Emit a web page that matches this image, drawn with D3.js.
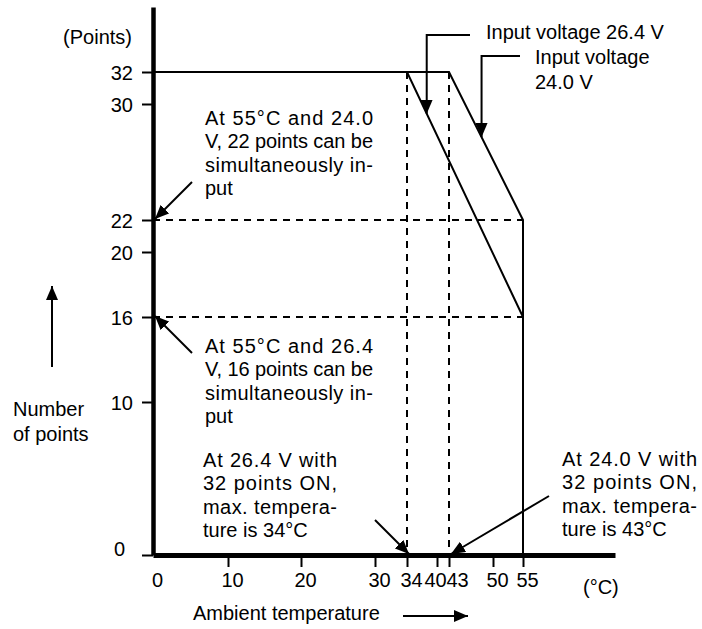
<!DOCTYPE html>
<html>
<meta charset="utf-8">
<script src="https://cdn.jsdelivr.net/npm/d3@7"></script>
<style>
body { margin: 0; background: #fff; }
text { font-family: "Liberation Sans", Arial, sans-serif; font-size: 20px; fill: #000; }
</style>
<body>
<script>

// tick values (the original drawing is not to scale, so scales are piecewise)
var xTicks = [0, 10, 20, 30, 34, 40, 43, 50, 55];
var yTicks = [0, 10, 16, 20, 22, 30, 32];

// derating curves: [ambient temperature, number of points]
var line264 = [[0, 32], [34, 32], [55, 16]];
var line240 = [[0, 32], [43, 32], [55, 22], [55, 0]];

// dashed guide lines
var guideTemps = [34, 43];
var guidePoints = [22, 16];

var notes = [
  {x: 205, y: 125, w: 168, lines: ["At 55°C and 24.0", "V, 22 points can be", "simultaneously in-", "put"]},
  {x: 205, y: 353, w: 168, lines: ["At 55°C and 26.4", "V, 16 points can be", "simultaneously in-", "put"]},
  {x: 203, y: 467, w: 134, lines: ["At 26.4 V with", "32 points ON,", "max. tempera-", "ture is 34°C"]},
  {x: 562, y: 466, w: 135, lines: ["At 24.0 V with", "32 points ON,", "max. tempera-", "ture is 43°C"]}
];

var width = 702, height = 629;

var svg = d3.select("body").append("svg")
  .attr("width", width)
  .attr("height", height);

var x = d3.scaleLinear()
  .domain([0, 10, 20, 30, 34, 40, 43, 50, 55, 68])
  .range([153, 228, 301, 375, 407, 437, 449, 493, 523, 615]);
var y = d3.scaleLinear()
  .domain([0, 10, 16, 20, 22, 30, 32, 36])
  .range([555, 402, 317, 252, 220, 104, 72, 7]);

// arrow head
svg.append("defs").append("marker")
  .attr("id", "head")
  .attr("viewBox", "0 0 14 12")
  .attr("refX", 14).attr("refY", 6)
  .attr("markerWidth", 14).attr("markerHeight", 12)
  .attr("markerUnits", "userSpaceOnUse")
  .attr("orient", "auto")
  .append("path").attr("d", "M0,0 L14,6 L0,12 Z").attr("fill", "#000");

// dashed guides
svg.selectAll(".vguide").data(guideTemps).enter().append("line")
  .attr("x1", d => x(d)).attr("x2", d => x(d))
  .attr("y1", y(32)).attr("y2", y(0))
  .attr("stroke", "#000").attr("stroke-width", 2).attr("stroke-dasharray", "7,6");
svg.selectAll(".hguide").data(guidePoints).enter().append("line")
  .attr("x1", x(0)).attr("x2", x(55))
  .attr("y1", d => y(d)).attr("y2", d => y(d))
  .attr("stroke", "#000").attr("stroke-width", 2).attr("stroke-dasharray", "7,6");

// curves
var line = d3.line().x(d => x(d[0])).y(d => y(d[1]));
[line264, line240].forEach(function(c) {
  svg.append("path").attr("d", line(c))
    .attr("fill", "none").attr("stroke", "#000").attr("stroke-width", 2);
});

// axes
var xAx = svg.append("g")
  .attr("transform", `translate(0,${y(0)})`)
  .call(d3.axisBottom(x).tickValues(xTicks).tickSize(12).tickSizeOuter(0));
xAx.select(".domain").attr("stroke-width", 5);
xAx.selectAll(".tick line").attr("stroke-width", 2).filter(d => d == 0).remove();
// labels sit a little right of their ticks; 40 and 43 are squeezed apart
xAx.selectAll(".tick text").attr("y", 32).attr("dy", 0)
  .attr("dx", d => d == 40 ? -2 : d == 43 ? 8 : 4)
  .style("font-size", "20px");

var yAx = svg.append("g")
  .attr("transform", `translate(${x(0)},0)`)
  .call(d3.axisLeft(y).tickValues(yTicks).tickSize(11).tickPadding(9).tickSizeOuter(0));
yAx.select(".domain").attr("stroke-width", 4.5);
yAx.selectAll(".tick line").attr("stroke-width", 2);
yAx.selectAll(".tick text").attr("dy", "0.35em").style("font-size", "20px");
yAx.selectAll(".tick").filter(d => d == 0).select("text").attr("dy", "0").attr("dx", -8);
svg.selectAll(".domain, .tick line").attr("stroke", "#000");

// horizontal part of curves over the axis
svg.append("line")
  .attr("x1", x(0)).attr("x2", x(43)).attr("y1", y(32)).attr("y2", y(32))
  .attr("stroke", "#000").attr("stroke-width", 2);

// axis labels
svg.append("text").attr("x", 132).attr("y", 44).attr("text-anchor", "end").text("(Points)");
svg.append("text").attr("x", 13).attr("y", 416).text("Number");
svg.append("text").attr("x", 13).attr("y", 441).text("of points");
svg.append("line").attr("x1", 52).attr("x2", 52).attr("y1", 367).attr("y2", 286)
  .attr("stroke", "#000").attr("stroke-width", 2).attr("marker-end", "url(#head)");
svg.append("text").attr("x", 193).attr("y", 620).text("Ambient temperature");
svg.append("line").attr("x1", 403).attr("x2", 468).attr("y1", 616).attr("y2", 616)
  .attr("stroke", "#000").attr("stroke-width", 2).attr("marker-end", "url(#head)");
svg.append("text").attr("x", 583).attr("y", 594).text("(°C)");

// note blocks, justified like the source
notes.forEach(function(n) {
  n.lines.forEach(function(s, i) {
    var t = svg.append("text").attr("x", n.x).attr("y", n.y + i * 23.3).text(s);
    if (i < n.lines.length - 1) t.attr("textLength", n.w).attr("lengthAdjust", "spacing");
  });
});

// straight pointers: tip in data units, tail as offset
var pointers = [
  {tip: [0, 22], off: [37, -37]},
  {tip: [0, 16], off: [37, 37]},
  {tip: [34, 0], off: [-34, -34]},
  {tip: [43, 0], off: [98, -58]}
];
pointers.forEach(function(p) {
  var tx = x(p.tip[0]) + 2, ty = y(p.tip[1]) - 1;
  svg.append("line")
    .attr("x1", tx + p.off[0]).attr("y1", ty + p.off[1])
    .attr("x2", tx).attr("y2", ty)
    .attr("stroke", "#000").attr("stroke-width", 2).attr("marker-end", "url(#head)");
});

// voltage labels with elbow leaders pointing at the sloped part
function onSeg(a, b, t) {
  return [x(a[0]) + (x(b[0]) - x(a[0])) * t, y(a[1]) + (y(b[1]) - y(a[1])) * t];
}
var tip1 = onSeg(line264[1], line264[2], 0.17);
var tip2 = onSeg(line240[1], line240[2], 0.44);
svg.append("path").attr("d", `M470,35 H${tip1[0]} V${tip1[1]}`)
  .attr("fill", "none").attr("stroke", "#000").attr("stroke-width", 2).attr("marker-end", "url(#head)");
svg.append("path").attr("d", `M520,56 H${tip2[0]} V${tip2[1]}`)
  .attr("fill", "none").attr("stroke", "#000").attr("stroke-width", 2).attr("marker-end", "url(#head)");
svg.append("text").attr("x", 486).attr("y", 39).text("Input voltage 26.4 V");
svg.append("text").attr("x", 535).attr("y", 64).text("Input voltage");
svg.append("text").attr("x", 535).attr("y", 89).text("24.0 V");

</script>
</body>
</html>
